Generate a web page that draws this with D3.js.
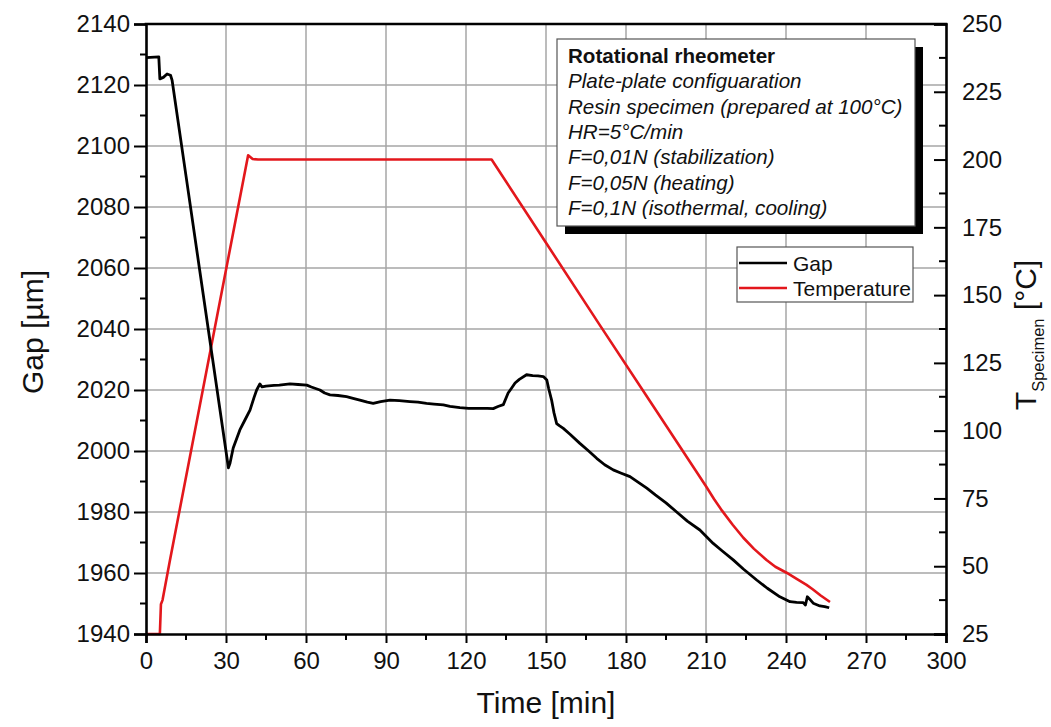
<!DOCTYPE html>
<html>
<head>
<meta charset="utf-8">
<script src="https://cdn.jsdelivr.net/npm/d3@7/dist/d3.min.js"></script>
<style>
  html, body { margin: 0; padding: 0; background: #fff; }
  svg { display: block; font-family: "Liberation Sans", Arial, sans-serif; }
</style>
</head>
<body>
<svg id="chart" width="1051" height="727"></svg>
<script>
// Gap measured by the rheometer [µm] vs. time [min]
const gapTime = [0, 4.8, 5.2, 6.5, 7.9, 9.2, 9.8, 15, 20, 25, 30, 30.9, 31.5, 32.7, 35.2, 37, 39, 40.5, 41.5, 42.7,
  43.5, 45, 48, 50, 54, 57, 60.3, 62, 65.2, 67, 69, 72, 75.2, 78, 80.2, 83, 85.2, 88, 91.5, 95, 99, 102, 105.2,
  108, 111.5, 114, 117.7, 121, 125.2, 128, 130.2, 132, 134, 135.8, 137, 138.4, 140, 142.7, 145, 147, 149, 150.3,
  151, 152.1, 153, 154, 155, 156.5, 159, 162.7, 166, 169, 172, 175.2, 178, 181.5, 184.5, 187.8, 191, 195, 199,
  203, 207.7, 212.7, 216, 220.2, 224, 229, 233, 237.7, 241.5, 244, 246.4, 247.3, 248, 248.8, 250.2, 252.7, 254.5, 256.2];
const gapValue = [2129, 2129.2, 2122, 2122.5, 2123.6, 2123.2, 2121.5, 2090.2, 2060.1, 2030, 1999.9, 1994.5, 1996, 2001, 2006.9, 2010, 2013.4, 2017.5, 2020, 2022,
  2021, 2021.3, 2021.5, 2021.6, 2022, 2021.8, 2021.6, 2021, 2020, 2019, 2018.4, 2018.2, 2017.8, 2017.2, 2016.7, 2016, 2015.6, 2016.2, 2016.7, 2016.5, 2016.2, 2016, 2015.6,
  2015.4, 2015.1, 2014.6, 2014.2, 2014, 2014, 2014, 2013.9, 2014.6, 2015.2, 2019, 2020.5, 2022.3, 2023.5, 2025, 2024.7, 2024.6, 2024.4, 2023.3,
  2020.5, 2016.7, 2012.5, 2009, 2008.3, 2007.4, 2005.5, 2002.5, 2000, 1997.6, 1995.5, 1993.8, 1992.8, 1991.6, 1989.8, 1987.8, 1985.6, 1983, 1980,
  1977, 1974.1, 1969.7, 1967.3, 1964.3, 1961.3, 1957.7, 1955, 1952.2, 1950.6, 1950.4, 1950.3, 1949.5, 1952.2, 1951.5, 1950.1, 1949.2, 1949, 1948.6];

// Specimen temperature [°C] vs. time [min]
const tempTime = [0, 5.2, 5.6, 6.2, 9, 38.3, 40, 42, 129.6, 150, 170, 190, 210, 213, 216, 220, 224, 228, 232.7, 236, 240.2, 244, 247.7, 250, 253, 256.5];
const tempValue = [25, 25, 36, 37.5, 52.3, 201.6, 200.2, 200, 200, 169.3, 139.2, 109.4, 79.5, 74.8, 70.5, 65.3, 60.5, 56.4, 52.3, 49.8, 47.6, 45.3, 43.1, 41.5, 39.2, 36.8];

// Axis ticks
const timeTicks = [0, 30, 60, 90, 120, 150, 180, 210, 240, 270, 300];
const gapTicks = [1940, 1960, 1980, 2000, 2020, 2040, 2060, 2080, 2100, 2120, 2140];
const tempTicks = [25, 50, 75, 100, 125, 150, 175, 200, 225, 250];

// Annotation and legend text
const noteTitle = "Rotational rheometer";
const noteLines = ["Plate-plate configuaration", "Resin specimen (prepared at 100°C)", "HR=5°C/min",
  "F=0,01N (stabilization)", "F=0,05N (heating)", "F=0,1N (isothermal, cooling)"];
const seriesNames = ["Gap", "Temperature"];
const seriesColors = ["#000000", "#e3171c"];

const svg = d3.select("#chart");
const L = 146, R = 946, T = 24, B = 634;

const x = d3.scaleLinear().domain([0, 300]).range([L, R]);
const yGap = d3.scaleLinear().domain([1940, 2140]).range([B, T]);
const yTemp = d3.scaleLinear().domain([25, 250]).range([B, T]);

// grid
const grid = svg.append("g").attr("stroke", "#a6a6a6").attr("stroke-width", 1.5);
grid.selectAll("line.v").data(timeTicks.filter(d => d > 0 && d < 300)).join("line")
  .attr("x1", d => x(d)).attr("x2", d => x(d)).attr("y1", T).attr("y2", B);
grid.selectAll("line.h").data(gapTicks.filter(d => d > 1940 && d < 2140)).join("line")
  .attr("y1", d => yGap(d)).attr("y2", d => yGap(d)).attr("x1", L).attr("x2", R);

// data lines
const gapLine = d3.line().x((d, i) => x(gapTime[i])).y(d => yGap(d));
const tempLine = d3.line().x((d, i) => x(tempTime[i])).y(d => yTemp(d));
svg.append("path").attr("d", tempLine(tempValue)).attr("fill", "none")
  .attr("stroke", seriesColors[1]).attr("stroke-width", 2.6).attr("stroke-linejoin", "round");
svg.append("path").attr("d", gapLine(gapValue)).attr("fill", "none")
  .attr("stroke", seriesColors[0]).attr("stroke-width", 2.8).attr("stroke-linejoin", "round");

// axes
function styleAxis(g) {
  g.select(".domain").attr("stroke-width", 2.6);
  g.selectAll(".tick line").attr("stroke-width", 2);
  g.selectAll("text").attr("font-size", 24).attr("fill", "#111").attr("font-family", "Liberation Sans, Arial, sans-serif");
}
function minor(g, scale, values, orient, len) {
  g.selectAll("line.minor").data(values).join("line").attr("class", "minor")
    .attr("stroke", "#000").attr("stroke-width", 2)
    .each(function (d) {
      const s = d3.select(this);
      if (orient === "left" || orient === "right") s.attr("x1", 0).attr("x2", -len).attr("y1", scale(d)).attr("y2", scale(d));
      if (orient === "bottom") s.attr("y1", 0).attr("y2", len).attr("x1", scale(d)).attr("x2", scale(d));
    });
}

const gx = svg.append("g").attr("transform", `translate(0,${B})`)
  .call(d3.axisBottom(x).tickValues(timeTicks).tickFormat(d3.format("d")).tickSizeOuter(0).tickSize(9).tickPadding(9));
styleAxis(gx);
minor(gx, x, d3.range(15, 300, 30), "bottom", 6);

const gy = svg.append("g").attr("transform", `translate(${L},0)`)
  .call(d3.axisLeft(yGap).tickValues(gapTicks).tickFormat(d3.format("d")).tickSizeOuter(0).tickSize(12).tickPadding(4));
styleAxis(gy);
minor(gy, yGap, d3.range(1950, 2140, 20), "left", 6);

const gr = svg.append("g").attr("transform", `translate(${R},0)`)
  .call(d3.axisRight(yTemp).tickValues(tempTicks).tickFormat(d3.format("d")).tickSizeOuter(0).tickSize(-12).tickPadding(16));
styleAxis(gr);
minor(gr, yTemp, d3.range(37.5, 250, 25), "right", 7);

// top frame line
svg.append("line").attr("x1", L - 1.3).attr("x2", R + 1.3).attr("y1", T).attr("y2", T)
  .attr("stroke", "#000").attr("stroke-width", 2.6);

// axis titles
svg.append("text").attr("x", (L + R) / 2).attr("y", 713).attr("text-anchor", "middle")
  .attr("font-size", 30).attr("fill", "#111").text("Time [min]");
svg.append("text").attr("transform", `translate(43,${(T + B) / 2 + 3}) rotate(-90)`).attr("text-anchor", "middle")
  .attr("font-size", 30).attr("fill", "#111").text("Gap [µm]");
const rt = svg.append("text").attr("transform", `translate(1036,${(T + B) / 2 + 6}) rotate(-90)`)
  .attr("text-anchor", "middle").attr("font-size", 30).attr("fill", "#111");
rt.append("tspan").text("T");
rt.append("tspan").attr("font-size", 16.5).attr("dy", 8).text("Specimen");
rt.append("tspan").attr("dy", -8).text(" [°C]");

// annotation box with drop shadow
const bx = 557, by = 39, bw = 358, bh = 187;
svg.append("rect").attr("x", bx + 8).attr("y", by + 8).attr("width", bw).attr("height", bh).attr("fill", "#000");
svg.append("rect").attr("x", bx).attr("y", by).attr("width", bw).attr("height", bh)
  .attr("fill", "#fff").attr("stroke", "#555").attr("stroke-width", 1.2);
const note = svg.append("g").attr("font-size", 20.6).attr("fill", "#111");
note.append("text").attr("x", bx + 11).attr("y", by + 24).attr("font-weight", "bold").text(noteTitle);
note.selectAll("text.l").data(noteLines).join("text").attr("class", "l")
  .attr("x", bx + 11).attr("y", (d, i) => by + 24 + (i + 1) * 25.3).attr("font-style", "italic").text(d => d);

// legend
const lx = 737, ly = 247;
svg.append("rect").attr("x", lx).attr("y", ly).attr("width", 176).attr("height", 55)
  .attr("fill", "#fff").attr("stroke", "#555").attr("stroke-width", 1.2);
const leg = svg.append("g").selectAll("g").data(seriesNames).join("g")
  .attr("transform", (d, i) => `translate(${lx},${ly + 16 + i * 25})`);
leg.append("line").attr("x1", 2).attr("x2", 50).attr("y1", 0).attr("y2", 0)
  .attr("stroke", (d, i) => seriesColors[i]).attr("stroke-width", 2.6);
leg.append("text").attr("x", 56).attr("y", 7.5).attr("font-size", 21).attr("fill", "#111").text(d => d);
</script>
</body>
</html>
